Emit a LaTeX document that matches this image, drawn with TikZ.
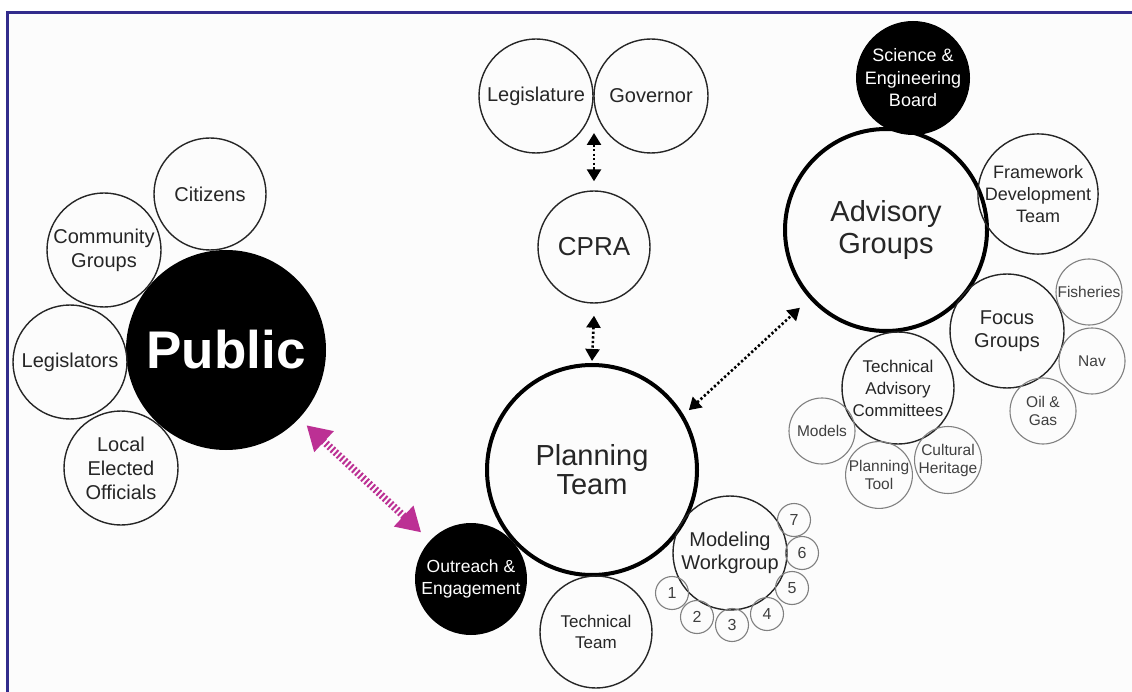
\documentclass[tikz,border=0pt]{standalone}
\usepackage{fontspec}
\setmainfont{Liberation Sans}
\usetikzlibrary{arrows.meta}
\definecolor{frameblue}{RGB}{50,44,140}
\definecolor{linkpink}{RGB}{188,48,148}
\definecolor{inkgray}{RGB}{38,38,38}
\definecolor{softgray}{RGB}{128,128,128}
\begin{document}
\begin{tikzpicture}[x=1pt,y=-1pt,
  bub/.style={circle, inner sep=0pt, minimum size=#1, align=center,
              draw=inkgray, line width=1.4pt, text=inkgray},
  big/.style={bub=#1, draw=black, line width=4pt, text=black!85},
  dark/.style={circle, inner sep=0pt, minimum size=#1, align=center,
               fill=black, text=white},
  small/.style={bub=#1, draw=softgray, line width=1.1pt, text=black!75},
  fs/.style 2 args={font=\fontsize{#1}{#2}\selectfont},
  dotarrow/.style={draw=black, line width=2.6pt, dash pattern=on 2.3pt off 2.3pt,
    {Triangle[length=12pt,width=14pt]}-{Triangle[length=12pt,width=14pt]}},
  pinkarrow/.style={draw=linkpink, line width=7.5pt, dash pattern=on 2pt off 2.2pt,
    {Triangle[length=24pt,width=27pt]}-{Triangle[length=24pt,width=27pt]}}
]
\useasboundingbox (0,0) rectangle (1132,692);
\fill[white] (0,0) rectangle (1132,692);
\fill[black!1] (8,13) rectangle (1132,692);
% frame lines
\draw[frameblue, line width=2.5pt] (7.5,692) -- (7.5,12.5) -- (1132,12.5);

% ---- Public cluster
\node[dark=200pt, font=\fontsize{53}{60}\selectfont\bfseries] (public) at (226,350) {Public};
\node[bub=112pt, fs={20}{24}] (citizens) at (210,194) {Citizens};
\node[bub=114pt, fs={20}{24}] (community) at (104,250) {Community\\Groups};
\node[bub=114pt, fs={20}{24}] (legislators) at (70,362) {Legislators};
\node[bub=114pt, fs={20}{24}] (localeo) at (121,468) {Local\\Elected\\Officials};

% ---- State level
\node[bub=114pt, fs={20}{24}] (legis) at (536,96) {Legislature};
\node[bub=114pt, fs={20}{24}] (gov) at (651,96) {Governor};
\node[bub=112pt, fs={26}{30}] (cpra) at (594,247) {CPRA};
\coordinate (lgfoot) at (594,133);

% ---- Planning team cluster
\node[big=210pt, fs={29}{29}] (plan) at (592,470) {Planning\\Team};
\node[dark=112pt, fs={17.5}{21.5}] (outreach) at (471,579) {Outreach \&\\Engagement};
\node[bub=112pt, fs={17}{21.5}] (techteam) at (596,632) {Technical\\Team};
\node[bub=114pt, fs={20}{23}] (modeling) at (730,553) {Modeling\\Workgroup};
\node[small=33pt, fs={16}{18}] (m1) at (672,593) {1};
\node[small=33pt, fs={16}{18}] (m2) at (697,617) {2};
\node[small=33pt, fs={16}{18}] (m3) at (732,625) {3};
\node[small=33pt, fs={16}{18}] (m4) at (767,614) {4};
\node[small=33pt, fs={16}{18}] (m5) at (792,588) {5};
\node[small=33pt, fs={16}{18}] (m6) at (802,553) {6};
\node[small=33pt, fs={16}{18}] (m7) at (794,520) {7};

% ---- Advisory cluster
\node[big=202pt, fs={29}{32}] (adv) at (886,230) {Advisory\\Groups};
\node[dark=114pt, fs={18}{22.5}] (seb) at (913,78) {Science \&\\Engineering\\Board};
\node[bub=112pt, fs={18}{21.7}] (framework) at (1038,194) {Framework\\Development\\Team};
\node[bub=114pt, fs={20}{23}] (focus) at (1007,331) {Focus\\Groups};
\node[bub=112pt, fs={17}{22}] (tac) at (898,388) {Technical\\Advisory\\Committees};
\node[small=66pt, fs={15.5}{18}] (models) at (822,431) {Models};
\node[small=66pt, fs={15.5}{18}] (ptool) at (879,475) {Planning\\Tool};
\node[small=66pt, fs={15.5}{18}] (cultural) at (948,460) {Cultural\\Heritage};
\node[small=66pt, fs={15.5}{18}] (fisheries) at (1089,292) {Fisheries};
\node[small=66pt, fs={15.5}{18}] (nav) at (1092,361) {Nav};
\node[small=66pt, fs={15.5}{18}] (oilgas) at (1043,411) {Oil \&\\Gas};

% ---- connectors
\draw[dotarrow] (lgfoot) -- ([yshift=9pt]cpra.north);
\draw[dotarrow] ([yshift=-12pt]cpra.south) -- ([yshift=2pt]plan.north);
\draw[dotarrow, shorten <=7pt, shorten >=13pt] (plan.31) -- (adv.222);
\draw[pinkarrow, shorten <=10pt, shorten >=12pt] (public) -- (outreach);
\end{tikzpicture}
\end{document}
